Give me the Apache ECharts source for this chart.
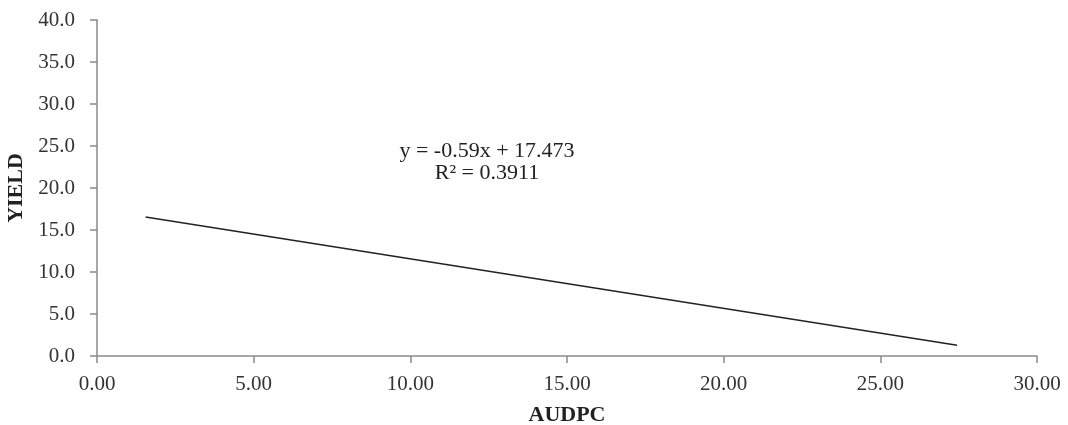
<!DOCTYPE html>
<html>
<head>
<meta charset="utf-8">
<script src="https://cdn.jsdelivr.net/npm/echarts@6/dist/echarts.min.js"></script>
<style>
html,body{margin:0;padding:0;background:#fff;}
#chart{width:1068px;height:425px;}
</style>
</head>
<body>
<div id="chart"></div>
<script>
// Trendline endpoints
const audpc = [1.55, 27.45];
const yieldVals = [16.55, 1.28];
const equationText = "y = -0.59x + 17.473";
const r2Text = "R\u00b2 = 0.3911";
const xAxisName = "AUDPC";
const yAxisName = "YIELD";

const font = "'Liberation Serif', 'Times New Roman', serif";
const chart = echarts.init(document.getElementById('chart'));
chart.setOption({
  animation: false,
  backgroundColor: '#fff',
  grid: {left: 97, right: 31, top: 20, bottom: 69, containLabel: false, outerBoundsMode: 'none'},
  xAxis: {
    type: 'value', min: 0, max: 30, interval: 5,
    name: xAxisName, nameLocation: 'middle', nameGap: 48,
    nameTextStyle: {fontFamily: font, fontSize: 22, fontWeight: 'bold', color: '#222'},
    axisLine: {show: true, lineStyle: {color: '#8a8a8a', width: 1.5}},
    axisTick: {show: true, length: 7, lineStyle: {color: '#8a8a8a', width: 1.5}},
    axisLabel: {fontFamily: font, fontSize: 21, color: '#333', margin: 18,
      formatter: v => v.toFixed(2)},
    splitLine: {show: false}
  },
  yAxis: {
    type: 'value', min: 0, max: 40, interval: 5,
    name: yAxisName, nameLocation: 'middle', nameGap: 65, nameRotate: 90,
    nameTextStyle: {fontFamily: font, fontSize: 22, fontWeight: 'bold', color: '#222'},
    axisLine: {show: true, lineStyle: {color: '#8a8a8a', width: 1.5}},
    axisTick: {show: true, length: 7, lineStyle: {color: '#8a8a8a', width: 1.5}},
    axisLabel: {fontFamily: font, fontSize: 21, color: '#333', margin: 22,
      formatter: v => v.toFixed(1)},
    splitLine: {show: false}
  },
  series: [{
    type: 'line',
    data: audpc.map((x, i) => [x, yieldVals[i]]),
    showSymbol: false,
    lineStyle: {color: '#222', width: 1.5},
    silent: true
  }],
  graphic: [{
    type: 'text', x: 487, y: 140,
    style: {text: equationText + '\n' + r2Text, fontFamily: font, fontSize: 22,
      fill: '#222', align: 'center', verticalAlign: 'top', lineHeight: 22}
  }]
});
</script>
</body>
</html>
